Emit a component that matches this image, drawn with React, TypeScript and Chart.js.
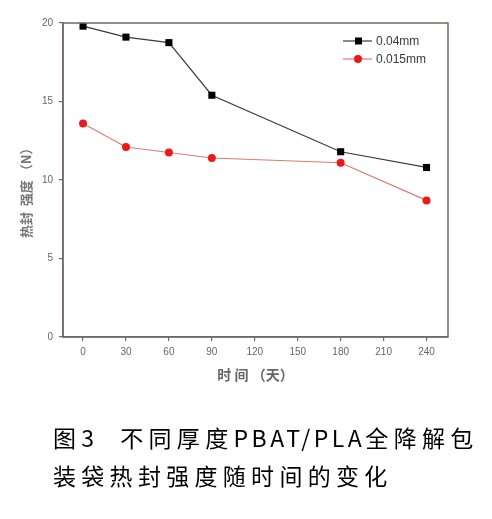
import React, { useEffect, useRef } from "react";
import { Chart, registerables } from "chart.js";

Chart.register(...registerables);

const days = [0, 30, 60, 90, 180, 240];
const thick004 = [19.8, 19.1, 18.75, 15.4, 11.8, 10.8];
const thick0015 = [13.6, 12.1, 11.75, 11.4, 11.1, 8.7];
const xTicks = [0, 30, 60, 90, 120, 150, 180, 210, 240];
const yTicks = [0, 5, 10, 15, 20];
const seriesNames = ["0.04mm", "0.015mm"];

const AXIS = "#6f6a66";
const TICKTXT = "#666";

const boxPlugin = {
  id: "box",
  afterDraw(chart: any) {
    const { ctx, chartArea } = chart;
    ctx.save();
    ctx.strokeStyle = AXIS;
    ctx.lineWidth = 1.5;
    ctx.strokeRect(chartArea.left, chartArea.top, chartArea.right - chartArea.left, chartArea.bottom - chartArea.top);
    ctx.restore();
  },
};

const legendPlugin = {
  id: "customLegend",
  afterDraw(chart: any) {
    const { ctx } = chart;
    ctx.save();
    chart.data.datasets.forEach((ds: any, i: number) => {
      const y = 41 + i * 18;
      const x0 = 343;
      const x1 = 372;
      ctx.strokeStyle = ds.borderColor;
      ctx.lineWidth = 1.2;
      ctx.beginPath();
      ctx.moveTo(x0, y);
      ctx.lineTo(x1, y);
      ctx.stroke();
      ctx.fillStyle = ds.pointBackgroundColor;
      if (ds.pointStyle === "rect") {
        ctx.fillRect(x0 + 12, y - 3.5, 7, 7);
      } else {
        ctx.beginPath();
        ctx.arc(x0 + 15, y, 4, 0, Math.PI * 2);
        ctx.fill();
      }
      ctx.fillStyle = "#3a3a3a";
      ctx.font = "12px 'Liberation Sans', Arial, sans-serif";
      ctx.textBaseline = "middle";
      ctx.textAlign = "left";
      ctx.fillText(ds.label, x1 + 4, y + 1);
    });
    ctx.restore();
  },
};

export default function App() {
  const ref = useRef<HTMLCanvasElement | null>(null);

  useEffect(() => {
    if (!ref.current) return;
    const chart = new Chart(ref.current, {
      type: "line",
      data: {
        datasets: [
          {
            label: seriesNames[0],
            data: days.map((d, i) => ({ x: d, y: thick004[i] })),
            borderColor: "#3c3c3c",
            borderWidth: 1.2,
            pointStyle: "rect",
            pointRadius: 5,
            pointBackgroundColor: "#000000",
            pointBorderColor: "#000000",
            pointBorderWidth: 0,
            tension: 0,
          },
          {
            label: seriesNames[1],
            data: days.map((d, i) => ({ x: d, y: thick0015[i] })),
            borderColor: "#e07a70",
            borderWidth: 1.2,
            pointStyle: "circle",
            pointRadius: 4,
            pointBackgroundColor: "#ea1a1a",
            pointBorderColor: "#ea1a1a",
            pointBorderWidth: 0,
            tension: 0,
          },
        ],
      },
      options: {
        animation: false,
        responsive: false,
        devicePixelRatio: 1,
        layout: { padding: { left: 0, top: 23, right: 44, bottom: 132 } },
        plugins: {
          legend: { display: false },
          tooltip: { enabled: false },
        },
        scales: {
          x: {
            type: "linear",
            min: -14,
            max: 255,
            afterBuildTicks: (scale: any) => {
              scale.ticks = xTicks.map((v) => ({ value: v }));
            },
            afterFit: (scale: any) => {
              scale.height = 50;
            },
            border: { display: true, color: AXIS, width: 1.5 },
            grid: { drawOnChartArea: false, drawTicks: true, tickLength: 4, color: AXIS, lineWidth: 1.2 },
            ticks: {
              color: TICKTXT,
              padding: 5,
              font: { size: 10, family: "'Liberation Sans', Arial, sans-serif" },
              maxRotation: 0,
              autoSkip: false,
            },
            title: {
              display: true,
              text: "时 间 （天）",
              color: "#666",
              font: { size: 14, weight: "bold", family: "'Noto Sans CJK SC', sans-serif" },
              padding: { top: 0, bottom: 4 },
            },
          },
          y: {
            type: "linear",
            min: 0,
            max: 20,
            afterBuildTicks: (scale: any) => {
              scale.ticks = yTicks.map((v) => ({ value: v }));
            },
            afterFit: (scale: any) => {
              scale.width = 63;
            },
            border: { display: true, color: AXIS, width: 1.5 },
            grid: { drawOnChartArea: false, drawTicks: true, tickLength: 4, color: AXIS, lineWidth: 1.2 },
            ticks: {
              color: TICKTXT,
              padding: 6,
              font: { size: 10, family: "'Liberation Sans', Arial, sans-serif" },
            },
            title: {
              display: true,
              text: "热封  强度 （N）\u3000\u3000",
              color: "#777",
              font: { size: 13, weight: "bold", family: "'Noto Sans CJK SC', sans-serif" },
              padding: { top: 18, bottom: 0 },
            },
          },
        },
      },
      plugins: [boxPlugin, legendPlugin],
    } as any);
    return () => chart.destroy();
  }, []);

  return (
    <div style={{ position: "absolute", left: 0, top: 0, width: 492, height: 519, background: "#fff" }}>
      <canvas ref={ref} width={492} height={519} style={{ position: "absolute", left: 0, top: 0, width: 492, height: 519 }} />
      <div
        style={{
          position: "absolute",
          left: 53,
          top: 418,
          fontFamily: "'Noto Sans CJK SC', sans-serif",
          fontSize: 23,
          lineHeight: "38px",
          letterSpacing: "5.3px",
          color: "#000",
          whiteSpace: "pre",
        }}
      >
        <div>
          {"图3  不同厚度"}
          <span style={{ letterSpacing: "3.5px" }}>PBAT/PLA</span>
          {"全降解包"}
        </div>
        <div>装袋热封强度随时间的变化</div>
      </div>
    </div>
  );
}
